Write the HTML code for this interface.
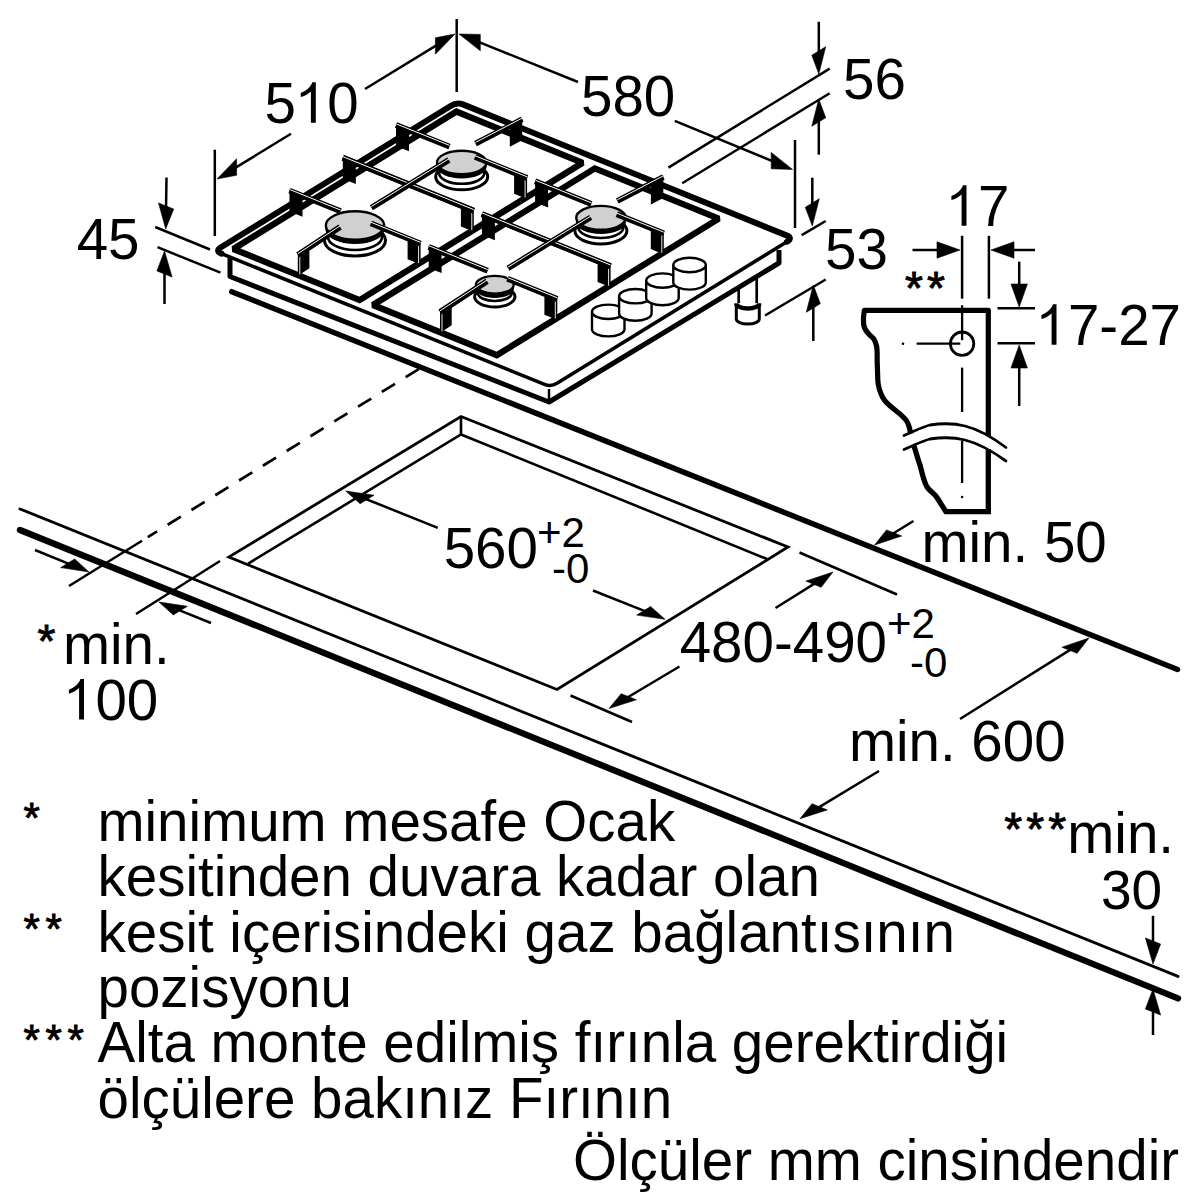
<!DOCTYPE html>
<html><head><meta charset="utf-8"><style>html,body{margin:0;padding:0;background:#fff;width:1200px;height:1200px;overflow:hidden}svg{display:block}</style></head>
<body><svg width="1200" height="1200" viewBox="0 0 1200 1200">
<line x1="20.0" y1="509.0" x2="1178.0" y2="976.4" stroke="#000" stroke-width="2.9" stroke-linecap="round" />
<line x1="20.0" y1="530.0" x2="1178.0" y2="998.4" stroke="#000" stroke-width="6.4" stroke-linecap="round" />
<line x1="231.7" y1="291.7" x2="1177.5" y2="669.5" stroke="#000" stroke-width="5.5" stroke-linecap="round" />
<line x1="147.8" y1="537.1" x2="420.0" y2="368.3" stroke="#000" stroke-width="2.7" stroke-linecap="butt" stroke-dasharray="15.5 12.5" stroke-dashoffset="4.6"/>
<polygon points="228.7,557.1 461.0,416.5 788.0,547.0 557.0,689.5" fill="none" stroke="#000" stroke-width="2.8" stroke-linejoin="miter" stroke-linecap="butt" />
<polyline points="248.2,563.6 461.0,434.5 767.0,559.0" fill="none" stroke="#000" stroke-width="2.6" stroke-linejoin="miter" stroke-linecap="butt" />
<line x1="461.0" y1="416.5" x2="461.0" y2="434.5" stroke="#000" stroke-width="2.6" stroke-linecap="butt" />
<line x1="456.7" y1="19.0" x2="456.7" y2="92.0" stroke="#000" stroke-width="2.5" stroke-linecap="butt" />
<line x1="214.8" y1="149.7" x2="214.8" y2="236.0" stroke="#000" stroke-width="2.5" stroke-linecap="butt" />
<line x1="365.0" y1="89.0" x2="438.8" y2="43.9" stroke="#000" stroke-width="2.5" stroke-linecap="butt" />
<polygon points="455.0,34.0 435.4,54.2 435.4,37.8" fill="#000" stroke="#000" stroke-width="0.6" stroke-linejoin="miter"/>
<line x1="291.0" y1="133.8" x2="233.2" y2="169.1" stroke="#000" stroke-width="2.5" stroke-linecap="butt" />
<polygon points="217.0,179.0 236.6,175.2 236.6,158.8" fill="#000" stroke="#000" stroke-width="0.6" stroke-linejoin="miter"/>
<line x1="578.0" y1="82.0" x2="476.6" y2="41.1" stroke="#000" stroke-width="2.5" stroke-linecap="butt" />
<polygon points="459.0,34.0 480.3,50.8 480.3,34.4" fill="#000" stroke="#000" stroke-width="0.6" stroke-linejoin="miter"/>
<line x1="674.8" y1="120.8" x2="774.9" y2="162.1" stroke="#000" stroke-width="2.5" stroke-linecap="butt" />
<polygon points="792.5,169.4 771.2,168.8 771.2,152.4" fill="#000" stroke="#000" stroke-width="0.6" stroke-linejoin="miter"/>
<line x1="795.0" y1="140.0" x2="795.0" y2="228.0" stroke="#000" stroke-width="2.5" stroke-linecap="butt" />
<line x1="668.4" y1="167.6" x2="829.7" y2="68.6" stroke="#000" stroke-width="2.5" stroke-linecap="butt" />
<line x1="682.2" y1="183.2" x2="829.7" y2="93.3" stroke="#000" stroke-width="2.5" stroke-linecap="butt" />
<line x1="818.8" y1="21.8" x2="818.8" y2="55.0" stroke="#000" stroke-width="2.5" stroke-linecap="butt" />
<polygon points="818.8,74.0 825.7,46.7 811.8,55.3" fill="#000" stroke="#000" stroke-width="0.6" stroke-linejoin="miter"/>
<line x1="818.8" y1="154.7" x2="818.8" y2="118.0" stroke="#000" stroke-width="2.5" stroke-linecap="butt" />
<polygon points="818.8,99.0 825.7,117.7 811.8,126.3" fill="#000" stroke="#000" stroke-width="0.6" stroke-linejoin="miter"/>
<line x1="801.7" y1="235.2" x2="825.7" y2="221.0" stroke="#000" stroke-width="2.5" stroke-linecap="butt" />
<line x1="765.0" y1="315.5" x2="825.7" y2="279.5" stroke="#000" stroke-width="2.5" stroke-linecap="butt" />
<line x1="812.3" y1="177.7" x2="812.3" y2="207.0" stroke="#000" stroke-width="2.5" stroke-linecap="butt" />
<polygon points="812.3,226.0 819.3,198.7 805.3,207.3" fill="#000" stroke="#000" stroke-width="0.6" stroke-linejoin="miter"/>
<line x1="813.3" y1="341.0" x2="813.3" y2="304.0" stroke="#000" stroke-width="2.5" stroke-linecap="butt" />
<polygon points="813.3,285.0 820.3,303.7 806.3,312.3" fill="#000" stroke="#000" stroke-width="0.6" stroke-linejoin="miter"/>
<line x1="155.2" y1="227.0" x2="210.0" y2="249.5" stroke="#000" stroke-width="2.5" stroke-linecap="butt" />
<line x1="157.5" y1="247.2" x2="220.5" y2="272.7" stroke="#000" stroke-width="2.5" stroke-linecap="butt" />
<line x1="166.5" y1="177.5" x2="166.0" y2="210.0" stroke="#000" stroke-width="2.5" stroke-linecap="butt" />
<polygon points="165.7,229.0 173.7,209.1 158.5,202.9" fill="#000" stroke="#000" stroke-width="0.6" stroke-linejoin="miter"/>
<line x1="164.5" y1="304.0" x2="164.5" y2="270.0" stroke="#000" stroke-width="2.5" stroke-linecap="butt" />
<polygon points="164.5,251.0 172.1,277.1 156.9,270.9" fill="#000" stroke="#000" stroke-width="0.6" stroke-linejoin="miter"/>
<line x1="962.1" y1="235.8" x2="962.1" y2="298.7" stroke="#000" stroke-width="2.5" stroke-linecap="butt" />
<line x1="988.9" y1="235.8" x2="988.9" y2="298.7" stroke="#000" stroke-width="2.5" stroke-linecap="butt" />
<line x1="912.5" y1="250.0" x2="941.0" y2="250.0" stroke="#000" stroke-width="2.5" stroke-linecap="butt" />
<polygon points="960.0,250.0 937.0,258.2 937.0,241.8" fill="#000" stroke="#000" stroke-width="0.6" stroke-linejoin="miter"/>
<line x1="1035.0" y1="250.0" x2="1010.0" y2="250.0" stroke="#000" stroke-width="2.5" stroke-linecap="butt" />
<polygon points="991.0,250.0 1014.0,258.2 1014.0,241.8" fill="#000" stroke="#000" stroke-width="0.6" stroke-linejoin="miter"/>
<line x1="997.5" y1="308.3" x2="1035.0" y2="308.3" stroke="#000" stroke-width="2.5" stroke-linecap="butt" />
<line x1="997.5" y1="343.3" x2="1035.0" y2="343.3" stroke="#000" stroke-width="2.5" stroke-linecap="butt" />
<line x1="1019.2" y1="261.7" x2="1019.2" y2="288.0" stroke="#000" stroke-width="2.5" stroke-linecap="butt" />
<polygon points="1019.2,307.0 1027.4,284.0 1011.0,284.0" fill="#000" stroke="#000" stroke-width="0.6" stroke-linejoin="miter"/>
<line x1="1019.2" y1="406.0" x2="1019.2" y2="364.0" stroke="#000" stroke-width="2.5" stroke-linecap="butt" />
<polygon points="1019.2,345.0 1027.4,368.0 1011.0,368.0" fill="#000" stroke="#000" stroke-width="0.6" stroke-linejoin="miter"/>
<line x1="69.0" y1="586.0" x2="142.0" y2="540.7" stroke="#000" stroke-width="2.5" stroke-linecap="butt" />
<line x1="136.0" y1="614.0" x2="220.0" y2="561.0" stroke="#000" stroke-width="2.5" stroke-linecap="butt" />
<line x1="35.0" y1="550.0" x2="71.4" y2="564.8" stroke="#000" stroke-width="2.5" stroke-linecap="butt" />
<polygon points="89.0,572.0 74.7,559.0 60.7,567.6" fill="#000" stroke="#000" stroke-width="0.6" stroke-linejoin="miter"/>
<line x1="211.0" y1="623.0" x2="176.6" y2="609.1" stroke="#000" stroke-width="2.5" stroke-linecap="butt" />
<polygon points="159.0,602.0 187.3,606.3 173.3,614.9" fill="#000" stroke="#000" stroke-width="0.6" stroke-linejoin="miter"/>
<line x1="437.8" y1="527.8" x2="363.3" y2="498.0" stroke="#000" stroke-width="2.5" stroke-linecap="butt" />
<polygon points="345.7,491.0 374.0,495.2 360.1,503.8" fill="#000" stroke="#000" stroke-width="0.6" stroke-linejoin="miter"/>
<line x1="593.0" y1="590.5" x2="647.4" y2="612.2" stroke="#000" stroke-width="2.5" stroke-linecap="butt" />
<polygon points="665.0,619.3 650.6,606.5 636.7,615.1" fill="#000" stroke="#000" stroke-width="0.6" stroke-linejoin="miter"/>
<line x1="799.5" y1="552.5" x2="897.0" y2="594.5" stroke="#000" stroke-width="2.5" stroke-linecap="butt" />
<line x1="775.5" y1="608.0" x2="816.9" y2="582.1" stroke="#000" stroke-width="2.5" stroke-linecap="butt" />
<polygon points="833.0,572.0 821.1,587.3 805.9,581.1" fill="#000" stroke="#000" stroke-width="0.6" stroke-linejoin="miter"/>
<line x1="679.5" y1="666.5" x2="625.3" y2="698.8" stroke="#000" stroke-width="2.5" stroke-linecap="butt" />
<polygon points="609.0,708.5 636.4,699.8 621.2,693.7" fill="#000" stroke="#000" stroke-width="0.6" stroke-linejoin="miter"/>
<line x1="570.5" y1="695.5" x2="632.0" y2="722.0" stroke="#000" stroke-width="2.5" stroke-linecap="butt" />
<line x1="913.5" y1="521.0" x2="890.7" y2="535.0" stroke="#000" stroke-width="2.5" stroke-linecap="butt" />
<polygon points="874.5,545.0 901.7,536.0 886.5,529.9" fill="#000" stroke="#000" stroke-width="0.6" stroke-linejoin="miter"/>
<line x1="960.0" y1="719.0" x2="1072.9" y2="648.1" stroke="#000" stroke-width="2.5" stroke-linecap="butt" />
<polygon points="1089.0,638.0 1077.1,653.3 1061.9,647.2" fill="#000" stroke="#000" stroke-width="0.6" stroke-linejoin="miter"/>
<line x1="879.0" y1="771.0" x2="816.3" y2="808.9" stroke="#000" stroke-width="2.5" stroke-linecap="butt" />
<polygon points="800.0,818.7 827.3,809.9 812.1,803.7" fill="#000" stroke="#000" stroke-width="0.6" stroke-linejoin="miter"/>
<line x1="1153.0" y1="915.8" x2="1153.0" y2="945.0" stroke="#000" stroke-width="2.5" stroke-linecap="butt" />
<polygon points="1153.0,964.0 1160.6,944.1 1145.4,937.9" fill="#000" stroke="#000" stroke-width="0.6" stroke-linejoin="miter"/>
<line x1="1153.0" y1="1035.0" x2="1153.0" y2="1008.0" stroke="#000" stroke-width="2.5" stroke-linecap="butt" />
<polygon points="1153.0,989.0 1160.6,1015.1 1145.4,1008.9" fill="#000" stroke="#000" stroke-width="0.6" stroke-linejoin="miter"/>
<g id="hob">
<path d="M221.5,253.6 Q215.0,251.0 221.0,247.3 L451.0,105.7 Q457.0,102.0 463.5,104.6 L786.5,235.4 Q793.0,238.0 787.0,241.7 L557.0,383.3 Q551.0,387.0 544.5,384.4 Z" fill="#fff" stroke="none"/>
<path d="M221.5,253.6 Q215.0,251.0 221.0,247.3 L451.0,105.7 Q457.0,102.0 463.5,104.6 L786.5,235.4 Q793.0,238.0 787.0,241.7" fill="none" stroke="#000" stroke-width="6.0" stroke-linecap="round"/>
<path d="M787.0,241.7 L557.0,383.3 Q551.0,387.0 544.5,384.4 L221.5,253.6" fill="none" stroke="#000" stroke-width="3.6" stroke-linecap="round"/>
<polyline points="230.0,257.0 230.0,276.5 549.0,402.0 779.0,263.0 779.0,250.0" fill="none" stroke="#000" stroke-width="5.0" stroke-linejoin="round" stroke-linecap="butt" />
<line x1="549.0" y1="389.0" x2="549.0" y2="402.0" stroke="#000" stroke-width="2.5" stroke-linecap="butt" />
<polygon points="233.3,249.0 456.4,111.6 582.7,162.8 359.6,300.1" fill="none" stroke="#000" stroke-width="6.3" stroke-linejoin="miter" stroke-linecap="butt" stroke-miterlimit="1.6"/>
<polygon points="372.9,305.0 594.8,168.4 718.8,218.6 496.8,355.2" fill="none" stroke="#000" stroke-width="6.3" stroke-linejoin="miter" stroke-linecap="butt" stroke-miterlimit="1.6"/>
<ellipse cx="355.0" cy="240.5" rx="30.5" ry="15.5" fill="#fff" stroke="#000" stroke-width="3"/>
<ellipse cx="355.0" cy="237.0" rx="27.0" ry="13.0" fill="#fff" stroke="#000" stroke-width="2.6"/>
<ellipse cx="355.0" cy="229.5" rx="29.5" ry="14.5" fill="#000"/>
<ellipse cx="355.0" cy="225.5" rx="29.2" ry="14.2" fill="#d0d0d0" stroke="#000" stroke-width="2.4"/>
<ellipse cx="461.7" cy="176.8" rx="26.0" ry="13.0" fill="#fff" stroke="#000" stroke-width="3"/>
<ellipse cx="461.7" cy="173.3" rx="22.5" ry="10.5" fill="#fff" stroke="#000" stroke-width="2.6"/>
<ellipse cx="461.7" cy="166.5" rx="25.0" ry="12.0" fill="#000"/>
<ellipse cx="461.7" cy="162.5" rx="24.7" ry="11.7" fill="#d0d0d0" stroke="#000" stroke-width="2.4"/>
<ellipse cx="494.8" cy="296.8" rx="20.2" ry="10.2" fill="#fff" stroke="#000" stroke-width="3"/>
<ellipse cx="494.8" cy="293.2" rx="16.8" ry="7.8" fill="#fff" stroke="#000" stroke-width="2.6"/>
<ellipse cx="494.8" cy="288.8" rx="19.2" ry="9.2" fill="#000"/>
<ellipse cx="494.8" cy="284.8" rx="18.9" ry="8.9" fill="#d0d0d0" stroke="#000" stroke-width="2.4"/>
<ellipse cx="600.9" cy="230.8" rx="26.0" ry="13.2" fill="#fff" stroke="#000" stroke-width="3"/>
<ellipse cx="600.9" cy="227.2" rx="22.5" ry="10.8" fill="#fff" stroke="#000" stroke-width="2.6"/>
<ellipse cx="600.9" cy="221.8" rx="25.0" ry="12.2" fill="#000"/>
<ellipse cx="600.9" cy="217.8" rx="24.7" ry="11.9" fill="#d0d0d0" stroke="#000" stroke-width="2.4"/>
<polygon points="289.5,188.8 302.5,194.0 302.5,216.8 289.5,211.6" fill="#000" />
<polygon points="420.6,241.8 407.6,236.5 407.6,259.3 420.6,264.6" fill="#000" />
<line x1="418.6" y1="244.6" x2="418.6" y2="263.1" stroke="#fff" stroke-width="0.9" stroke-linecap="butt" />
<polygon points="342.8,156.0 355.8,161.2 355.8,184.0 342.8,178.8" fill="#000" />
<polygon points="473.8,209.0 460.9,203.8 460.9,226.6 473.8,231.8" fill="#000" />
<line x1="471.8" y1="211.8" x2="471.8" y2="230.3" stroke="#fff" stroke-width="0.9" stroke-linecap="butt" />
<polygon points="396.0,123.2 409.0,128.5 409.0,151.3 396.0,146.0" fill="#000" />
<polygon points="527.1,176.2 514.1,171.0 514.1,193.8 527.1,199.0" fill="#000" />
<line x1="525.1" y1="179.0" x2="525.1" y2="197.5" stroke="#fff" stroke-width="0.9" stroke-linecap="butt" />
<polygon points="297.8,253.1 309.4,245.4 309.4,268.2 297.8,275.9" fill="#000" />
<line x1="299.8" y1="255.9" x2="299.8" y2="274.4" stroke="#fff" stroke-width="0.9" stroke-linecap="butt" />
<polygon points="522.2,117.5 509.8,124.0 509.8,146.8 522.2,140.3" fill="#000" />
<line x1="289.5" y1="190.6" x2="340.7" y2="211.3" stroke="#000" stroke-width="5.8" stroke-linecap="butt" />
<line x1="289.5" y1="189.4" x2="340.7" y2="210.1" stroke="#fff" stroke-width="1.0" stroke-linecap="butt" />
<line x1="420.6" y1="243.6" x2="370.8" y2="223.4" stroke="#000" stroke-width="5.8" stroke-linecap="butt" />
<line x1="420.6" y1="242.4" x2="370.8" y2="222.2" stroke="#fff" stroke-width="1.0" stroke-linecap="butt" />
<line x1="342.8" y1="157.8" x2="473.8" y2="210.8" stroke="#000" stroke-width="5.8" stroke-linecap="butt" />
<line x1="342.8" y1="156.6" x2="473.8" y2="209.6" stroke="#fff" stroke-width="1.0" stroke-linecap="butt" />
<line x1="473.8" y1="210.8" x2="342.8" y2="157.8" stroke="#000" stroke-width="5.8" stroke-linecap="butt" />
<line x1="473.8" y1="209.6" x2="342.8" y2="156.6" stroke="#fff" stroke-width="1.0" stroke-linecap="butt" />
<line x1="396.0" y1="125.0" x2="449.5" y2="146.6" stroke="#000" stroke-width="5.8" stroke-linecap="butt" />
<line x1="396.0" y1="123.8" x2="449.5" y2="145.4" stroke="#fff" stroke-width="1.0" stroke-linecap="butt" />
<line x1="527.1" y1="178.0" x2="475.0" y2="156.9" stroke="#000" stroke-width="5.8" stroke-linecap="butt" />
<line x1="527.1" y1="176.8" x2="475.0" y2="155.7" stroke="#fff" stroke-width="1.0" stroke-linecap="butt" />
<line x1="297.8" y1="254.9" x2="340.1" y2="227.0" stroke="#000" stroke-width="5.8" stroke-linecap="butt" />
<line x1="297.8" y1="253.7" x2="340.1" y2="225.8" stroke="#fff" stroke-width="1.0" stroke-linecap="butt" />
<line x1="371.4" y1="207.7" x2="448.9" y2="160.0" stroke="#000" stroke-width="5.8" stroke-linecap="butt" />
<line x1="371.4" y1="206.5" x2="448.9" y2="158.8" stroke="#fff" stroke-width="1.0" stroke-linecap="butt" />
<line x1="522.2" y1="119.3" x2="475.5" y2="143.6" stroke="#000" stroke-width="5.8" stroke-linecap="butt" />
<line x1="522.2" y1="118.1" x2="475.5" y2="142.4" stroke="#fff" stroke-width="1.0" stroke-linecap="butt" />
<polygon points="428.7,245.1 441.6,250.3 441.6,273.1 428.7,267.9" fill="#000" />
<polygon points="557.3,297.2 544.4,291.9 544.4,314.7 557.3,320.0" fill="#000" />
<line x1="555.3" y1="300.0" x2="555.3" y2="318.5" stroke="#fff" stroke-width="0.9" stroke-linecap="butt" />
<polygon points="481.9,212.3 494.9,217.5 494.9,240.3 481.9,235.1" fill="#000" />
<polygon points="610.6,264.4 597.6,259.1 597.6,281.9 610.6,287.2" fill="#000" />
<line x1="608.6" y1="267.2" x2="608.6" y2="285.7" stroke="#fff" stroke-width="0.9" stroke-linecap="butt" />
<polygon points="535.1,179.5 548.1,184.8 548.1,207.6 535.1,202.3" fill="#000" />
<polygon points="663.8,231.6 650.8,226.3 650.8,249.1 663.8,254.4" fill="#000" />
<line x1="661.8" y1="234.4" x2="661.8" y2="252.9" stroke="#fff" stroke-width="0.9" stroke-linecap="butt" />
<polygon points="440.0,310.2 451.7,302.5 451.7,325.3 440.0,333.0" fill="#000" />
<line x1="442.0" y1="313.0" x2="442.0" y2="331.5" stroke="#fff" stroke-width="0.9" stroke-linecap="butt" />
<polygon points="663.3,175.3 650.9,181.8 650.9,204.6 663.3,198.1" fill="#000" />
<line x1="428.7" y1="246.9" x2="487.7" y2="270.8" stroke="#000" stroke-width="5.8" stroke-linecap="butt" />
<line x1="428.7" y1="245.7" x2="487.7" y2="269.6" stroke="#fff" stroke-width="1.0" stroke-linecap="butt" />
<line x1="557.3" y1="299.0" x2="507.4" y2="278.7" stroke="#000" stroke-width="5.8" stroke-linecap="butt" />
<line x1="557.3" y1="297.8" x2="507.4" y2="277.5" stroke="#fff" stroke-width="1.0" stroke-linecap="butt" />
<line x1="481.9" y1="214.1" x2="610.6" y2="266.2" stroke="#000" stroke-width="5.8" stroke-linecap="butt" />
<line x1="481.9" y1="212.9" x2="610.6" y2="265.0" stroke="#fff" stroke-width="1.0" stroke-linecap="butt" />
<line x1="610.6" y1="266.2" x2="481.9" y2="214.1" stroke="#000" stroke-width="5.8" stroke-linecap="butt" />
<line x1="610.6" y1="265.0" x2="481.9" y2="212.9" stroke="#fff" stroke-width="1.0" stroke-linecap="butt" />
<line x1="535.1" y1="181.3" x2="591.3" y2="204.0" stroke="#000" stroke-width="5.8" stroke-linecap="butt" />
<line x1="535.1" y1="180.1" x2="591.3" y2="202.8" stroke="#fff" stroke-width="1.0" stroke-linecap="butt" />
<line x1="663.8" y1="233.4" x2="616.8" y2="214.3" stroke="#000" stroke-width="5.8" stroke-linecap="butt" />
<line x1="663.8" y1="232.2" x2="616.8" y2="213.1" stroke="#fff" stroke-width="1.0" stroke-linecap="butt" />
<line x1="440.0" y1="312.0" x2="487.1" y2="281.2" stroke="#000" stroke-width="5.8" stroke-linecap="butt" />
<line x1="440.0" y1="310.8" x2="487.1" y2="280.0" stroke="#fff" stroke-width="1.0" stroke-linecap="butt" />
<line x1="508.0" y1="268.3" x2="590.7" y2="217.4" stroke="#000" stroke-width="5.8" stroke-linecap="butt" />
<line x1="508.0" y1="267.1" x2="590.7" y2="216.2" stroke="#fff" stroke-width="1.0" stroke-linecap="butt" />
<line x1="663.3" y1="177.1" x2="617.3" y2="201.0" stroke="#000" stroke-width="5.8" stroke-linecap="butt" />
<line x1="663.3" y1="175.9" x2="617.3" y2="199.8" stroke="#fff" stroke-width="1.0" stroke-linecap="butt" />
<path d="M592.0,311.8 L592.0,329.2 A16.2,7.2 0 0 0 624.5,329.2 L624.5,311.8 A16.2,7.2 0 0 0 592.0,311.8 A16.2,7.2 0 0 0 624.5,311.8" fill="#fff" stroke="#000" stroke-width="2.4" stroke-linejoin="round"/>
<path d="M619.1,296.2 L619.1,313.6 A16.2,7.2 0 0 0 651.6,313.6 L651.6,296.2 A16.2,7.2 0 0 0 619.1,296.2 A16.2,7.2 0 0 0 651.6,296.2" fill="#fff" stroke="#000" stroke-width="2.4" stroke-linejoin="round"/>
<path d="M646.2,280.6 L646.2,298.0 A16.2,7.2 0 0 0 678.7,298.0 L678.7,280.6 A16.2,7.2 0 0 0 646.2,280.6 A16.2,7.2 0 0 0 678.7,280.6" fill="#fff" stroke="#000" stroke-width="2.4" stroke-linejoin="round"/>
<path d="M673.3,265.0 L673.3,282.4 A16.2,7.2 0 0 0 705.8,282.4 L705.8,265.0 A16.2,7.2 0 0 0 673.3,265.0 A16.2,7.2 0 0 0 705.8,265.0" fill="#fff" stroke="#000" stroke-width="2.4" stroke-linejoin="round"/>
<line x1="738.7" y1="286.5" x2="738.7" y2="303.3" stroke="#000" stroke-width="2.7" stroke-linecap="butt" />
<line x1="756.7" y1="275.5" x2="756.7" y2="303.3" stroke="#000" stroke-width="2.7" stroke-linecap="butt" />
<path d="M736.3,303.5 L736.3,319.0 A11.5,5.0 0 0 0 759.3,319.0 L759.3,303.5" fill="#fff" stroke="#000" stroke-width="3" stroke-linejoin="round"/>
<path d="M736.3,303.5 A11.5,5.0 0 0 0 759.3,303.5" fill="none" stroke="#000" stroke-width="4.5"/>
</g>
<path d="M910.5,433.5 C909.5,426 907.5,421 904.6,418.4 C901,414.5 898.5,412.5 896,410.8 C889,405.5 884.5,401 882.6,397.3 C879,390 878,385 877.8,380 L877.2,362 C877,354 877.5,350 876.5,346 C875.5,342 875,340 873,338 C868,334 864.5,330 863.6,324.5 C863.2,320 863.5,315 864.3,310.4 L988.3,310.4 L988.3,436" fill="none" stroke="#000" stroke-width="5.2" stroke-linejoin="round"/>
<path d="M914,446 C916,452 918,460 920,465 C922,473 924,482 927,487 C929,490 932,492 935,495 C939,500 942,506 946,511.7 L988.3,511.7 L988.3,449" fill="none" stroke="#000" stroke-width="5.3" stroke-linejoin="miter"/>
<path d="M904,435.5 C915,431 922,427 930,425 C940,423.5 955,423.5 965,426 C975,428.5 988,434 1006,447.5" fill="none" stroke="#000" stroke-width="2.8" stroke-linecap="round"/>
<path d="M904,449.5 C915,445 922,441 930,439 C940,437.5 955,437.5 965,440 C975,442.5 988,448 1006,461" fill="none" stroke="#000" stroke-width="2.8" stroke-linecap="round"/>
<circle cx="962.1" cy="343.7" r="11.7" fill="none" stroke="#000" stroke-width="2.8"/>
<line x1="962.1" y1="305.2" x2="962.1" y2="340.2" stroke="#000" stroke-width="2.3" stroke-linecap="butt" />
<line x1="962.1" y1="367.6" x2="962.1" y2="412.0" stroke="#000" stroke-width="2.3" stroke-linecap="butt" />
<line x1="962.1" y1="441.0" x2="962.1" y2="483.0" stroke="#000" stroke-width="2.3" stroke-linecap="butt" />
<circle cx="962.1" cy="497" r="1.3"/>
<circle cx="903" cy="343.7" r="1.3"/>
<line x1="916.6" y1="343.7" x2="960.3" y2="343.7" stroke="#000" stroke-width="2.3" stroke-linecap="butt" />
<g font-family="Liberation Sans, sans-serif" fill="#000">
<text x="264.4" y="122.8" font-size="56.5">5</text>
<path d="M315.8,122.8 L310.9,122.8 L310.9,91.4 C308.3,94.0 304.3,96.0 300.7,97.1 L300.7,93.0 C306.6,90.6 310.8,86.9 312.3,82.3 L315.8,82.3 Z" fill="#000"/>
<text x="327.2" y="122.8" font-size="56.5">0</text>
<text x="581.0" y="115.5" font-size="56.5" text-anchor="start">580</text>
<text x="843.0" y="98.5" font-size="56.5" text-anchor="start">56</text>
<text x="76.7" y="259.0" font-size="56.5" text-anchor="start">45</text>
<text x="825.0" y="269.2" font-size="56.5" text-anchor="start">53</text>
<path d="M966.5,225.8 L961.6,225.8 L961.6,194.4 C958.9,197.0 955.0,199.0 951.4,200.1 L951.4,196.0 C957.2,193.6 961.5,189.9 963.0,185.3 L966.5,185.3 Z" fill="#000"/>
<text x="977.9" y="225.8" font-size="56.5">7</text>
<text x="905.1" y="303.6" font-size="46" stroke="#000" stroke-width="0.9">*</text>
<text x="927.1" y="303.6" font-size="46" stroke="#000" stroke-width="0.9">*</text>
<path d="M1056.5,344.8 L1051.6,344.8 L1051.6,313.4 C1048.9,316.0 1045.0,318.0 1041.4,319.1 L1041.4,315.0 C1047.2,312.6 1051.5,308.9 1053.0,304.3 L1056.5,304.3 Z" fill="#000"/>
<text x="1067.9" y="344.8" font-size="56.5">7-27</text>
<text x="443.7" y="568.0" font-size="56.5" text-anchor="start">560</text>
<text x="537.0" y="547.0" font-size="42" text-anchor="start">+2</text>
<text x="552.0" y="583.0" font-size="42" text-anchor="start">-0</text>
<text x="679.7" y="661.5" font-size="56.5" text-anchor="start">480-490</text>
<text x="887.0" y="638.0" font-size="42" text-anchor="start">+2</text>
<text x="910.0" y="677.0" font-size="42" text-anchor="start">-0</text>
<text x="921.5" y="561.5" font-size="56.5" text-anchor="start">min. 50</text>
<text x="37.6" y="656.6" font-size="46" stroke="#000" stroke-width="0.9">*</text>
<text x="63.0" y="664.3" font-size="56.5" text-anchor="start">min.</text>
<path d="M84.0,719.5 L79.1,719.5 L79.1,688.1 C76.4,690.7 72.5,692.7 68.9,693.8 L68.9,689.7 C74.7,687.3 79.0,683.6 80.5,679.0 L84.0,679.0 Z" fill="#000"/>
<text x="95.4" y="719.5" font-size="56.5">00</text>
<text x="848.9" y="760.5" font-size="56.5" text-anchor="start">min. 600</text>
<text x="1004.3" y="844.6" font-size="46" stroke="#000" stroke-width="0.9">*</text>
<text x="1026.3" y="844.6" font-size="46" stroke="#000" stroke-width="0.9">*</text>
<text x="1048.3" y="844.6" font-size="46" stroke="#000" stroke-width="0.9">*</text>
<text x="1067.3" y="852.5" font-size="56.5" text-anchor="start">min.</text>
<text x="1101.0" y="908.7" font-size="55" text-anchor="start">30</text>
<text x="23.6" y="832.4" font-size="42" stroke="#000" stroke-width="0.9">*</text>
<text x="97.5" y="841.0" font-size="56.5" text-anchor="start">minimum mesafe Ocak</text>
<text x="97.5" y="896.3" font-size="56.5" text-anchor="start">kesitinden duvara kadar olan</text>
<text x="23.6" y="943.0" font-size="42" stroke="#000" stroke-width="0.9">*</text>
<text x="45.6" y="943.0" font-size="42" stroke="#000" stroke-width="0.9">*</text>
<text x="97.5" y="951.6" font-size="56.5" text-anchor="start">kesit içerisindeki gaz bağlantısının</text>
<text x="97.5" y="1006.9" font-size="56.5" text-anchor="start">pozisyonu</text>
<text x="23.6" y="1053.6" font-size="42" stroke="#000" stroke-width="0.9">*</text>
<text x="45.6" y="1053.6" font-size="42" stroke="#000" stroke-width="0.9">*</text>
<text x="67.6" y="1053.6" font-size="42" stroke="#000" stroke-width="0.9">*</text>
<text x="97.5" y="1062.2" font-size="56.5" text-anchor="start">Alta monte edilmiş fırınla gerektirdiği</text>
<text x="97.5" y="1117.5" font-size="56.5" text-anchor="start">ölçülere bakınız Fırının</text>
<text x="1179.0" y="1179.5" font-size="56.5" text-anchor="end">Ölçüler mm cinsindendir</text>
</g>
</svg></body></html>
